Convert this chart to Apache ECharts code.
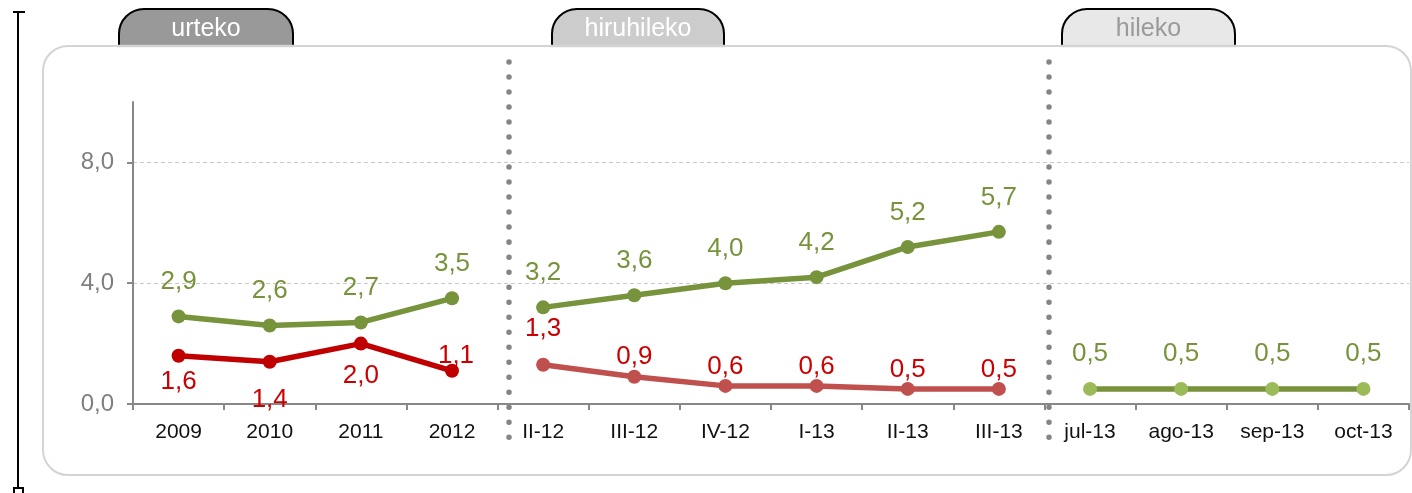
<!DOCTYPE html>
<html>
<head>
<meta charset="utf-8">
<script src="https://cdn.jsdelivr.net/npm/echarts@6/dist/echarts.min.js"></script>
<style>
  html, body { margin: 0; padding: 0; background: #fff; }
  #chart { width: 1412px; height: 493px; }
</style>
</head>
<body>
<div id="chart"></div>
<script>
// ---- data ----
const yearCats = ['2009', '2010', '2011', '2012'];
const quarterCats = ['II-12', 'III-12', 'IV-12', 'I-13', 'II-13', 'III-13'];
const monthCats = ['jul-13', 'ago-13', 'sep-13', 'oct-13'];
const yearGreen = [2.9, 2.6, 2.7, 3.5];
const yearRed = [1.6, 1.4, 2.0, 1.1];
const quarterGreen = [3.2, 3.6, 4.0, 4.2, 5.2, 5.7];
const quarterRed = [1.3, 0.9, 0.6, 0.6, 0.5, 0.5];
const monthGreen = [0.5, 0.5, 0.5, 0.5];
const yTickValues = [0, 4, 8];
const tabLabels = ['urteko', 'hiruhileko', 'hileko'];

// ---- build ----
const categories = yearCats.concat(quarterCats, monthCats);
const fmt = v => Number(v).toFixed(1).replace('.', ',');
function place(values, offset, labelCfg) {
  const out = categories.map(() => '-');
  values.forEach((v, i) => {
    const item = { value: v };
    if (labelCfg && labelCfg[i]) item.label = labelCfg[i];
    out[offset + i] = item;
  });
  return out;
}
const FONT = 'Liberation Sans, Arial, sans-serif';
const GREEN = '#77933c';
const GREEN_LIGHT = '#9bbb59';
const RED = '#c00000';
const RED_SOFT = '#c0504d';
const LABEL_RED = '#cc0000';

const baseLabel = (color) => ({
  show: true, position: 'top', distance: 15, color: color,
  fontSize: 26, lineHeight: 25, fontFamily: FONT,
  formatter: p => fmt(p.value)
});

const yearRedLabels = [
  { position: 'bottom', distance: 7 },
  { position: 'bottom', distance: 19 },
  { position: 'bottom', distance: 13 },
  { position: 'top', distance: -5, offset: [4, 0] }
];
const quarterRedLabels = [
  { distance: 16 }, { distance: 0 }, { distance: 0 }, { distance: 0 }, { distance: 0 }, { distance: 0 }
];
const monthLabels = [{ distance: 16 }, { distance: 16 }, { distance: 16 }, { distance: 16 }];

function lineSeries(values, offset, lineColor, dotColor, labelColor, labelCfg) {
  return {
    type: 'line',
    data: place(values, offset, labelCfg),
    connectNulls: false,
    symbol: 'circle',
    symbolSize: 14,
    lineStyle: { color: lineColor, width: 5.5 },
    itemStyle: { color: dotColor },
    label: baseLabel(labelColor),
    z: 5
  };
}

const tabs = [
  { x0: 119, x1: 293, fill: '#999999', text: '#ffffff' },
  { x0: 552, x1: 724, fill: '#cccccc', text: '#ffffff' },
  { x0: 1062, x1: 1235, fill: '#e8e8e8', text: '#9a9a9a' }
];
const graphics = [];
graphics.push({
  type: 'rect', z: -10,
  shape: { x: 43, y: 46, width: 1368, height: 429, r: 25 },
  style: { fill: '#ffffff', stroke: '#d4d4d4', lineWidth: 2 }
});
tabs.forEach((t, i) => {
  graphics.push({
    type: 'rect', z: -9,
    shape: { x: t.x0, y: 9, width: t.x1 - t.x0, height: 37, r: [25, 25, 0, 0] },
    style: { fill: t.fill, stroke: '#000', lineWidth: 2 }
  });
  graphics.push({
    type: 'line', z: -8,
    shape: { x1: t.x0 - 1, y1: 46, x2: t.x1 + 1, y2: 46 },
    style: { stroke: '#d4d4d4', lineWidth: 2.5 }
  });
  graphics.push({
    type: 'text', z: -7, x: (t.x0 + t.x1) / 2, y: 29,
    style: { text: tabLabels[i], fill: t.text, font: '25px ' + FONT,
      align: 'center', verticalAlign: 'middle' }
  });
});
// left bracket
graphics.push({ type: 'line', z: 2, shape: { x1: 18, y1: 11, x2: 18, y2: 489 }, style: { stroke: '#000', lineWidth: 2 } });
graphics.push({ type: 'line', z: 2, shape: { x1: 13, y1: 12, x2: 25, y2: 12 }, style: { stroke: '#000', lineWidth: 2 } });
graphics.push({ type: 'rect', z: 2, shape: { x: 14, y: 488, width: 9, height: 8 }, style: { fill: 'none', stroke: '#000', lineWidth: 2 } });
// dotted separators
[509, 1049].forEach(x => {
  graphics.push({
    type: 'line', z: 20,
    shape: { x1: x, y1: 62, x2: x, y2: 451 },
    style: { stroke: '#858585', lineWidth: 5.5, lineCap: 'round', lineDash: [0.01, 15] }
  });
});

const option = {
  animation: false,
  backgroundColor: '#ffffff',
  grid: { left: 133, right: 3, top: 102, bottom: 89, containLabel: false },
  graphic: { elements: graphics },
  xAxis: {
    type: 'category',
    data: categories,
    boundaryGap: true,
    axisLine: { lineStyle: { color: '#888888', width: 2 } },
    axisTick: { show: true, alignWithLabel: false, length: 6, lineStyle: { color: '#888888', width: 2 } },
    axisLabel: { color: '#111111', fontSize: 21, fontFamily: FONT, margin: 18, interval: 0 },
    splitLine: { show: false },
    z: 4
  },
  yAxis: {
    type: 'value',
    min: 0, max: 10, interval: 4,
    axisLine: { show: true, lineStyle: { color: '#888888', width: 2 } },
    axisTick: { show: true, length: 6, customValues: yTickValues, lineStyle: { color: '#888888', width: 2 } },
    axisLabel: { color: '#7f7f7f', fontSize: 24, fontFamily: FONT, margin: 19,
      customValues: yTickValues, formatter: v => fmt(v) },
    splitLine: { show: true, showMinLine: false,
      lineStyle: { color: '#c8c8c8', type: [4, 3], width: 1 } },
    z: 4
  },
  series: [
    lineSeries(yearGreen, 0, GREEN, GREEN, GREEN),
    lineSeries(yearRed, 0, RED, RED, LABEL_RED, yearRedLabels),
    lineSeries(quarterGreen, yearCats.length, GREEN, GREEN, GREEN),
    lineSeries(quarterRed, yearCats.length, RED_SOFT, RED_SOFT, LABEL_RED, quarterRedLabels),
    lineSeries(monthGreen, yearCats.length + quarterCats.length, GREEN, GREEN_LIGHT, GREEN, monthLabels)
  ]
};

const chart = echarts.init(document.getElementById('chart'), null, { renderer: 'canvas' });
chart.setOption(option);
</script>
</body>
</html>
